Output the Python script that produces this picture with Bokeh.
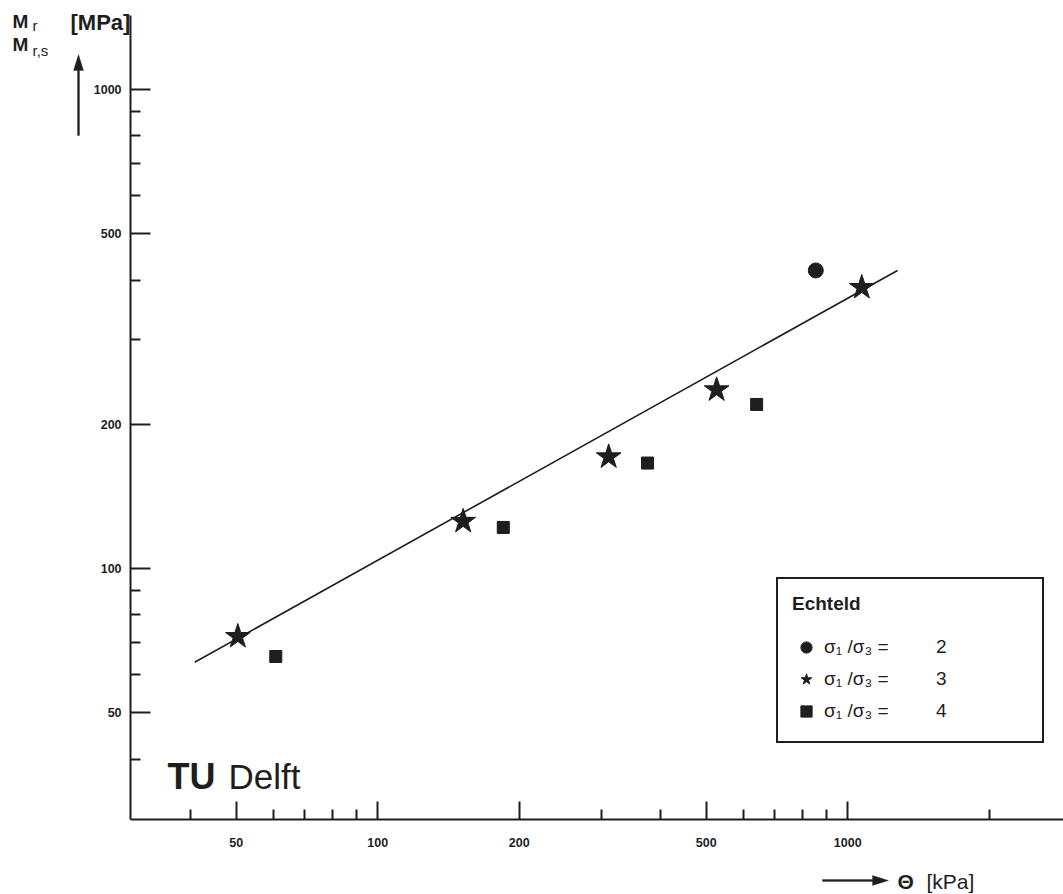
from bokeh.plotting import figure
from bokeh.models import (FixedTicker, Legend, LegendItem, Label, PolyAnnotation, Range1d)
from bokeh.embed import file_html
from bokeh.resources import INLINE

# ---- data ----
theta_r2 = [855]
mr_r2 = [419]
theta_r3 = [50.4, 152, 310, 526, 1071]
mr_r3 = [72.1, 125.4, 171, 236, 386]
theta_r4 = [60.7, 185, 375, 640]
mr_r4 = [65.5, 121.8, 166, 220]
fit_theta = [40.8, 1276]
fit_mr = [63.7, 419]

x_major = [50, 100, 200, 500, 1000]
x_minor = [40, 60, 70, 80, 90, 300, 400, 600, 700, 800, 900, 2000]
y_major = [50, 100, 200, 500, 1000]
y_minor = [40, 60, 70, 80, 90, 300, 400, 600, 700, 800, 900]
x_axis_bounds = (29.8, 2877)
y_axis_bounds = (29.9, 1426)

legend_title = "Echteld"
GAP = "\u00a0" * 9
labels = ["σ₁ /σ₃ =" + GAP + "2", "σ₁ /σ₃ =" + GAP + "3", "σ₁ /σ₃ =" + GAP + "4"]

INK = "#1e1e1e"
FONT = "Liberation Sans"

p = figure(width=1063, height=894, x_axis_type="log", y_axis_type="log",
           x_range=Range1d(15.76, 2877), y_range=Range1d(20.86, 1534),
           output_backend="svg", toolbar_location=None, title=None,
           min_border_left=0, min_border_right=0, min_border_top=0, min_border_bottom=0)
p.outline_line_color = None
p.xgrid.visible = False
p.ygrid.visible = False
p.background_fill_color = "white"
p.border_fill_color = "white"

xa = p.xaxis[0]
ya = p.yaxis[0]
xa.fixed_location = y_axis_bounds[0]
xa.bounds = x_axis_bounds
ya.fixed_location = x_axis_bounds[0]
ya.bounds = y_axis_bounds

for ax, maj, mnr in ((xa, x_major, x_minor), (ya, y_major, y_minor)):
    ax.ticker = FixedTicker(ticks=maj, minor_ticks=mnr)
    ax.axis_line_color = INK
    ax.axis_line_width = 2
    ax.major_tick_line_color = INK
    ax.minor_tick_line_color = INK
    ax.major_tick_line_width = 2
    ax.minor_tick_line_width = 2
    ax.major_tick_out = 0
    ax.minor_tick_out = 0
    ax.major_label_text_font = FONT
    ax.major_label_text_font_style = "bold"
    ax.major_label_text_font_size = "12.5px"
    ax.major_label_text_color = INK
    ax.major_label_overrides = {v: str(v) for v in maj}

ya.major_tick_in = 20
ya.minor_tick_in = 10
ya.major_label_standoff = 9
xa.major_tick_in = 18
xa.minor_tick_in = 10
xa.major_label_standoff = 18

p.line(fit_theta, fit_mr, line_color=INK, line_width=1.6)
r2 = p.scatter(theta_r2, mr_r2, marker="circle", size=15, fill_color=INK, line_color=INK)
r3 = p.scatter(theta_r3, mr_r3, marker="star", size=26, fill_color=INK, line_color=INK)
r4 = p.scatter(theta_r4, mr_r4, marker="square", size=12, fill_color=INK, line_color=INK)

legend = Legend(items=[LegendItem(label=labels[0], renderers=[r2]),
                       LegendItem(label=labels[1], renderers=[r3]),
                       LegendItem(label=labels[2], renderers=[r4])],
                title=legend_title, location=(776, 151))
legend.title_text_font = FONT
legend.title_text_font_size = "19px"
legend.title_text_font_style = "bold"
legend.title_text_color = INK
legend.title_standoff = 16
legend.label_text_font = FONT
legend.label_text_font_size = "19px"
legend.label_text_color = INK
legend.glyph_width = 28
legend.glyph_height = 32
legend.label_height = 32
legend.spacing = 0
legend.padding = 14
legend.margin = 0
legend.label_standoff = 4
legend.label_width = 204
legend.border_line_color = INK
legend.border_line_alpha = 1
legend.border_line_width = 2
legend.background_fill_color = "white"
legend.background_fill_alpha = 1
p.add_layout(legend, "center")

# ---- texts in screen units (frame == whole canvas, y measured upward) ----
def lab(x, y, text, size, style="bold", anchor="left"):
    p.add_layout(Label(x=x, y=y, x_units="screen", y_units="screen", text=text,
                       text_font=FONT, text_font_size=size, text_font_style=style,
                       text_color=INK, text_align=anchor, text_baseline="alphabetic"))

lab(12, 873, "M", "19px")
lab(32, 869, "r", "15px", style="normal")
lab(12, 850, "M", "19px")
lab(32, 844, "r,s", "15px", style="normal")
lab(70, 872, "[MPa]", "22px")
lab(897, 13, "Θ", "21px")
lab(926, 13, "[kPa]", "21px", style="normal")

# arrows drawn as filled outlines
p.add_layout(PolyAnnotation(xs=[77, 79, 79, 83, 78, 73, 77],
                            ys=[759, 759, 824, 824, 840, 824, 824],
                            xs_units="screen", ys_units="screen",
                            fill_color=INK, fill_alpha=1, line_color=INK, line_width=1))
p.add_layout(PolyAnnotation(xs=[822, 872, 872, 888, 872, 872, 822],
                            ys=[13, 13, 9, 14, 19, 15, 15],
                            xs_units="screen", ys_units="screen",
                            fill_color=INK, fill_alpha=1, line_color=INK, line_width=1))

# watermark
lab(167, 118, "TU", "36px")
lab(228, 118, "Delft", "35px", style="normal")

open("out.html", "w").write(file_html(p, INLINE))
